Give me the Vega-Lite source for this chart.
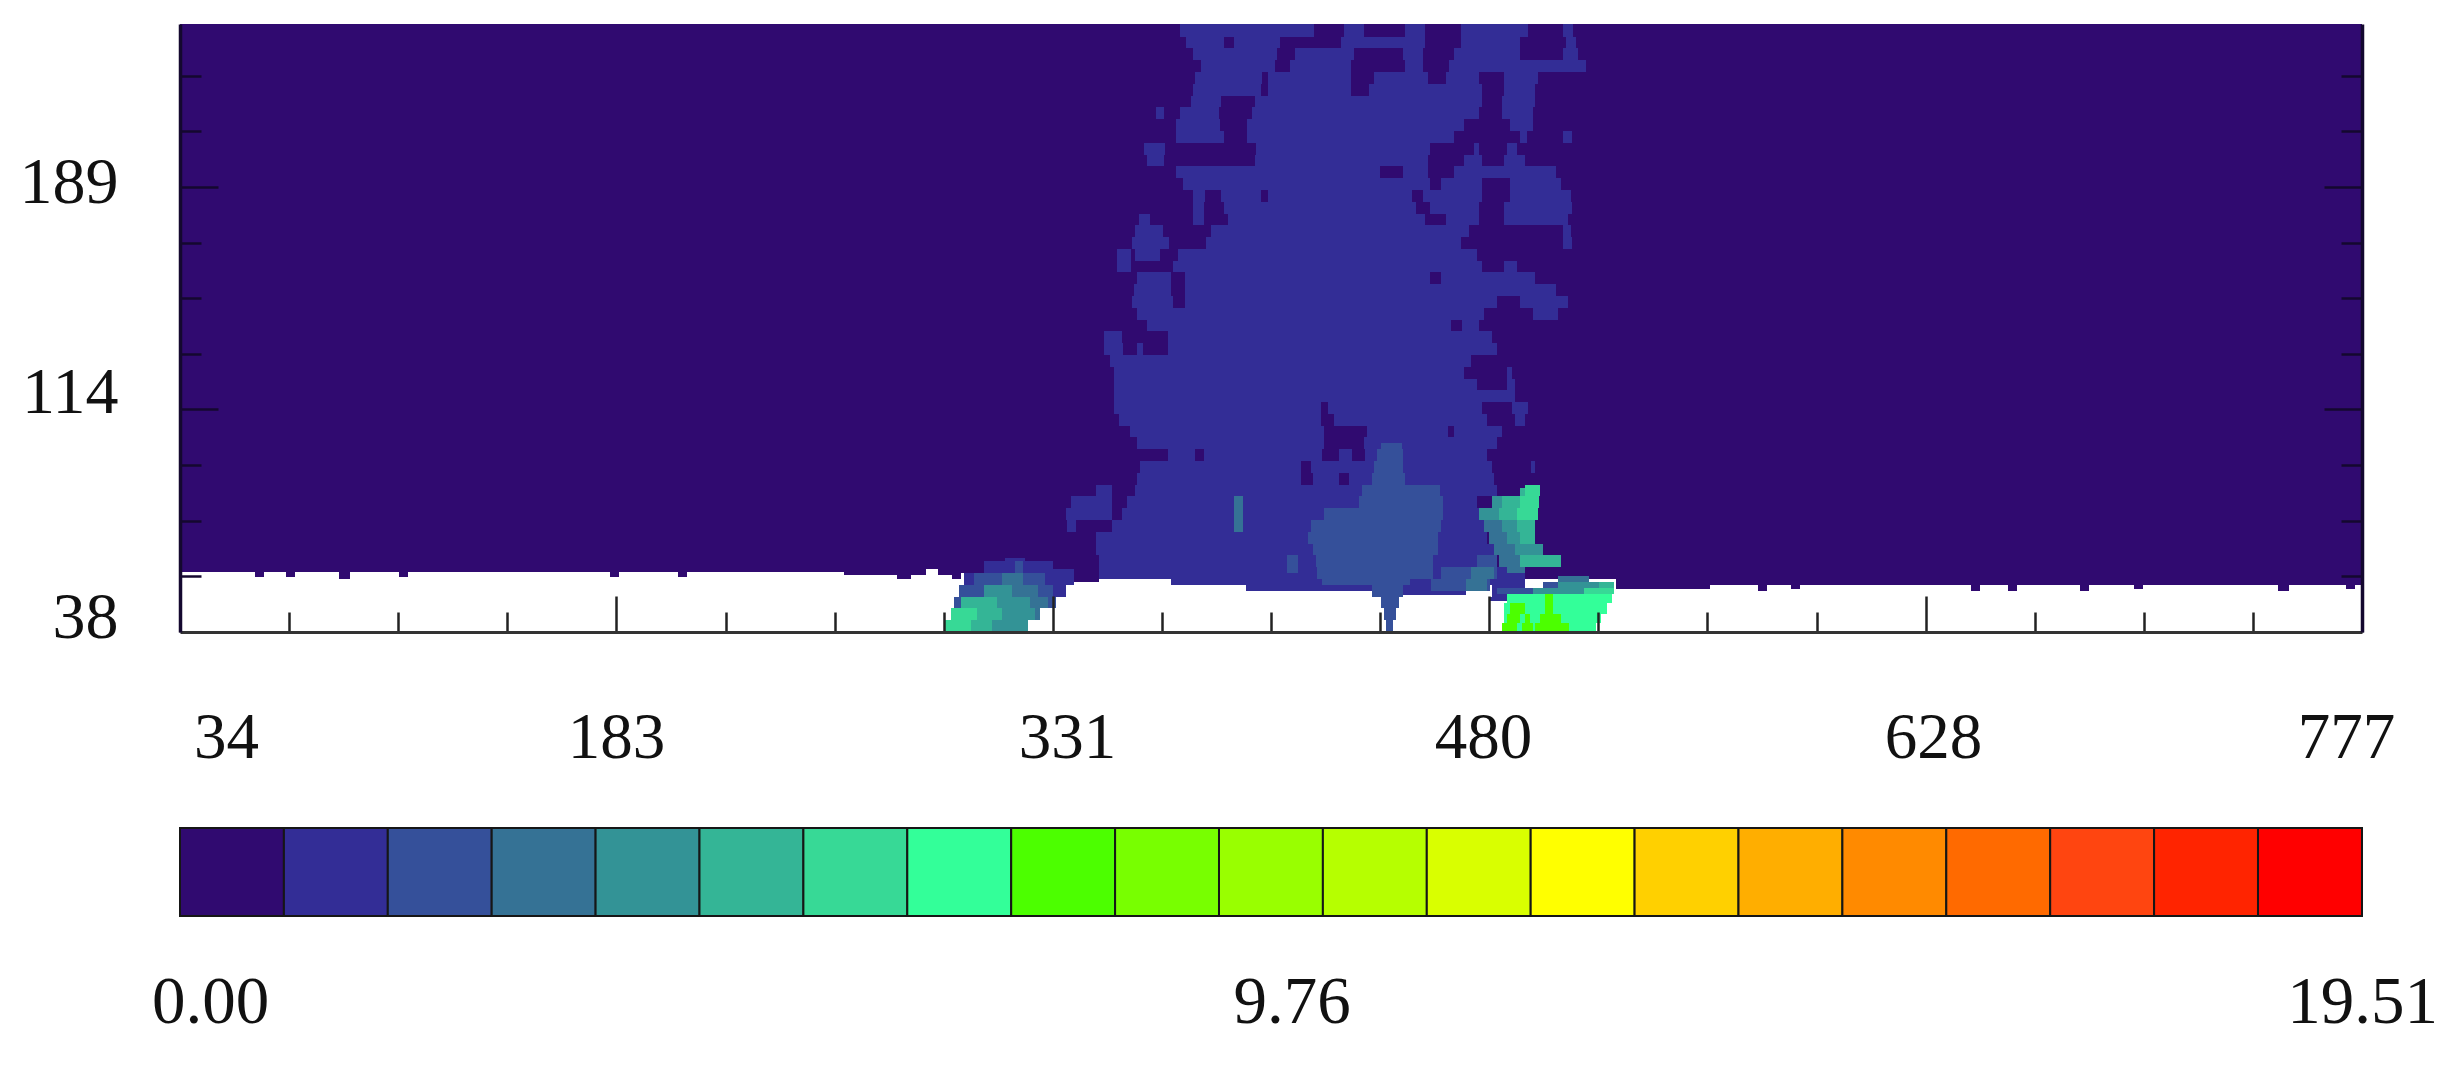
{"$schema":"https://vega.github.io/schema/vega-lite/v6.json","background":"white","padding":{"left":19,"top":24,"right":0,"bottom":0},"spacing":41,"config":{"view":{"stroke":null}},
"vconcat":[{"width":2182,"height":608,
"layer":[{"data":{"values":[
{"x":34,"x2":260,"y":58.5,"y2":244.3,"v":0.46},{"x":260,"x2":278,"y":57.5,"y2":244.3,"v":0.46},{"x":278,"x2":283,"y":56,"y2":244.3,"v":0.46},{"x":283,"x2":288,"y":57.5,"y2":244.3,"v":0.46},{"x":288,"x2":292,"y":59.5,"y2":244.3,"v":0.46},{"x":292,"x2":297,"y":57.5,"y2":244.3,"v":0.46},{"x":297,"x2":300,"y":56,"y2":244.3,"v":0.46},{"x":300,"x2":338,"y":58,"y2":244.3,"v":0.46},{"x":338,"x2":347,"y":55,"y2":244.3,"v":0.46},{"x":347,"x2":523,"y":56,"y2":244.3,"v":0.46},{"x":523,"x2":555,"y":52.5,"y2":244.3,"v":0.46},{"x":555,"x2":777,"y":54,"y2":244.3,"v":0.46},
{"x":59.5,"x2":62.5,"y":56.5,"y2":58.5,"v":0.46},{"x":70,"x2":73,"y":56.5,"y2":58.5,"v":0.46},{"x":88,"x2":92,"y":56,"y2":58.5,"v":0.46},{"x":108.5,"x2":111.5,"y":56.5,"y2":58.5,"v":0.46},{"x":180.5,"x2":183.5,"y":56.5,"y2":58.5,"v":0.46},{"x":203.5,"x2":206.5,"y":56.5,"y2":58.5,"v":0.46},
{"x":571.5,"x2":574.5,"y":52,"y2":54,"v":0.46},{"x":582.5,"x2":585.5,"y":52.5,"y2":54,"v":0.46},{"x":644,"x2":647,"y":52,"y2":54,"v":0.46},{"x":656.5,"x2":659.5,"y":52,"y2":54,"v":0.46},{"x":681,"x2":684,"y":52,"y2":54,"v":0.46},{"x":699.5,"x2":702.5,"y":52.5,"y2":54,"v":0.46},{"x":748.5,"x2":752,"y":52,"y2":54,"v":0.46},{"x":771.5,"x2":774.5,"y":52.5,"y2":54,"v":0.46},
{"x":374.4,"x2":420,"y":240,"y2":244.3,"v":1.39},{"x":430.3,"x2":437,"y":240,"y2":244.3,"v":1.39},{"x":451.2,"x2":458,"y":240,"y2":244.3,"v":1.39},{"x":470.3,"x2":493,"y":240,"y2":244.3,"v":1.39},{"x":505,"x2":508.5,"y":240,"y2":244.3,"v":1.39},
{"x":376.5,"x2":389.5,"y":236,"y2":240,"v":1.39},{"x":393,"x2":408.6,"y":236,"y2":240,"v":1.39},{"x":429.4,"x2":458.1,"y":236,"y2":240,"v":1.39},{"x":470.3,"x2":490.2,"y":236,"y2":240,"v":1.39},{"x":505.9,"x2":509.4,"y":236,"y2":240,"v":1.39},
{"x":379.1,"x2":407.4,"y":232,"y2":236,"v":1.39},{"x":413.8,"x2":433.8,"y":232,"y2":236,"v":1.39},{"x":450.3,"x2":457.2,"y":232,"y2":236,"v":1.39},{"x":467.7,"x2":490.2,"y":232,"y2":236,"v":1.39},{"x":505,"x2":510.2,"y":232,"y2":236,"v":1.39},
{"x":381.7,"x2":406.9,"y":228,"y2":232,"v":1.39},{"x":412.1,"x2":432.9,"y":228,"y2":232,"v":1.39},{"x":451.2,"x2":457.2,"y":228,"y2":232,"v":1.39},{"x":466,"x2":512.8,"y":228,"y2":232,"v":1.39},
{"x":379.6,"x2":402.5,"y":224,"y2":228,"v":1.39},{"x":404.6,"x2":432.9,"y":224,"y2":228,"v":1.39},{"x":440.7,"x2":459,"y":224,"y2":228,"v":1.39},{"x":465,"x2":476.4,"y":224,"y2":228,"v":1.39},{"x":485,"x2":496.3,"y":224,"y2":228,"v":1.39},
{"x":379.1,"x2":402.2,"y":220,"y2":224,"v":1.39},{"x":404.6,"x2":432.9,"y":220,"y2":224,"v":1.39},{"x":439,"x2":477.2,"y":220,"y2":224,"v":1.39},{"x":485,"x2":495.5,"y":220,"y2":224,"v":1.39},
{"x":378.2,"x2":388.6,"y":216,"y2":220,"v":1.39},{"x":399.9,"x2":477.2,"y":216,"y2":220,"v":1.39},{"x":484.2,"x2":495.5,"y":216,"y2":220,"v":1.39},
{"x":366.4,"x2":369.2,"y":212,"y2":216,"v":1.39},{"x":374.4,"x2":387.8,"y":212,"y2":216,"v":1.39},{"x":399,"x2":476.4,"y":212,"y2":216,"v":1.39},{"x":484.2,"x2":494.8,"y":212,"y2":216,"v":1.39},
{"x":373,"x2":388.3,"y":208,"y2":212,"v":1.39},{"x":397.3,"x2":471.1,"y":208,"y2":212,"v":1.39},{"x":486.8,"x2":494.6,"y":208,"y2":212,"v":1.39},
{"x":373,"x2":389.5,"y":204,"y2":208,"v":1.39},{"x":397.3,"x2":467.7,"y":204,"y2":208,"v":1.39},{"x":490.2,"x2":492.8,"y":204,"y2":208,"v":1.39},{"x":505,"x2":508,"y":204,"y2":208,"v":1.39},
{"x":362.2,"x2":369.5,"y":200,"y2":204,"v":1.39},{"x":400.4,"x2":459.8,"y":200,"y2":204,"v":1.39},{"x":474.6,"x2":476.4,"y":200,"y2":204,"v":1.39},{"x":485.9,"x2":489.4,"y":200,"y2":204,"v":1.39},
{"x":363.4,"x2":369.2,"y":196,"y2":200,"v":1.39},{"x":399.9,"x2":459,"y":196,"y2":200,"v":1.39},{"x":471.1,"x2":477.2,"y":196,"y2":200,"v":1.39},{"x":485,"x2":492,"y":196,"y2":200,"v":1.39},
{"x":373,"x2":442.5,"y":192,"y2":196,"v":1.39},{"x":450.3,"x2":459,"y":192,"y2":196,"v":1.39},{"x":467.7,"x2":502.4,"y":192,"y2":196,"v":1.39},
{"x":375.6,"x2":459.8,"y":188,"y2":192,"v":1.39},{"x":463.3,"x2":477.2,"y":188,"y2":192,"v":1.39},{"x":486.8,"x2":504.1,"y":188,"y2":192,"v":1.39},
{"x":379.1,"x2":383,"y":184,"y2":188,"v":1.39},{"x":388.6,"x2":402.2,"y":184,"y2":188,"v":1.39},{"x":404.6,"x2":453.4,"y":184,"y2":188,"v":1.39},{"x":457.2,"x2":477.2,"y":184,"y2":188,"v":1.39},{"x":486.8,"x2":507.6,"y":184,"y2":188,"v":1.39},
{"x":379.1,"x2":382.8,"y":180,"y2":184,"v":1.39},{"x":389.5,"x2":455,"y":180,"y2":184,"v":1.39},{"x":459.8,"x2":476.4,"y":180,"y2":184,"v":1.39},{"x":485,"x2":508.1,"y":180,"y2":184,"v":1.39},
{"x":360.5,"x2":364.3,"y":176,"y2":180,"v":1.39},{"x":379.1,"x2":382.8,"y":176,"y2":180,"v":1.39},{"x":390.7,"x2":458.1,"y":176,"y2":180,"v":1.39},{"x":465,"x2":476.4,"y":176,"y2":180,"v":1.39},{"x":485,"x2":506.7,"y":176,"y2":180,"v":1.39},
{"x":359.1,"x2":368.7,"y":172,"y2":176,"v":1.39},{"x":385.2,"x2":472.9,"y":172,"y2":176,"v":1.39},{"x":505,"x2":507.6,"y":172,"y2":176,"v":1.39},
{"x":358.2,"x2":370.9,"y":168,"y2":172,"v":1.39},{"x":383.4,"x2":470.3,"y":168,"y2":172,"v":1.39},{"x":505,"x2":508.1,"y":168,"y2":172,"v":1.39},
{"x":353,"x2":357.7,"y":164,"y2":168,"v":1.39},{"x":359.1,"x2":367.8,"y":164,"y2":168,"v":1.39},{"x":373.9,"x2":475.5,"y":164,"y2":168,"v":1.39},
{"x":353,"x2":357.7,"y":160,"y2":164,"v":1.39},{"x":372.1,"x2":477.2,"y":160,"y2":164,"v":1.39},{"x":485,"x2":489.4,"y":160,"y2":164,"v":1.39},
{"x":360,"x2":371.3,"y":156,"y2":160,"v":1.39},{"x":376.1,"x2":459.8,"y":156,"y2":160,"v":1.39},{"x":463.3,"x2":495.5,"y":156,"y2":160,"v":1.39},
{"x":358.8,"x2":371.3,"y":152,"y2":156,"v":1.39},{"x":376.1,"x2":502.4,"y":152,"y2":156,"v":1.39},
{"x":358.2,"x2":372.1,"y":148,"y2":152,"v":1.39},{"x":376.1,"x2":482.4,"y":148,"y2":152,"v":1.39},{"x":490.2,"x2":506.7,"y":148,"y2":152,"v":1.39},
{"x":360,"x2":478.1,"y":144,"y2":148,"v":1.39},{"x":494.6,"x2":503.3,"y":144,"y2":148,"v":1.39},
{"x":363.4,"x2":466.8,"y":140,"y2":144,"v":1.39},{"x":470.6,"x2":476.4,"y":140,"y2":144,"v":1.39},
{"x":348.7,"x2":354.8,"y":136,"y2":140,"v":1.39},{"x":370.4,"x2":480.7,"y":136,"y2":140,"v":1.39},
{"x":348.7,"x2":355,"y":132,"y2":136,"v":1.39},{"x":360,"x2":362,"y":132,"y2":136,"v":1.39},{"x":370.4,"x2":482.4,"y":132,"y2":136,"v":1.39},
{"x":350.8,"x2":473.7,"y":128,"y2":132,"v":1.39},
{"x":352.2,"x2":471.1,"y":124,"y2":128,"v":1.39},{"x":485.9,"x2":487.6,"y":124,"y2":128,"v":1.39},
{"x":352.2,"x2":475.5,"y":120,"y2":124,"v":1.39},{"x":485.9,"x2":488.5,"y":120,"y2":124,"v":1.39},
{"x":352.2,"x2":488.5,"y":116,"y2":120,"v":1.39},
{"x":352.2,"x2":422.5,"y":112,"y2":116,"v":1.39},{"x":425,"x2":477.2,"y":112,"y2":116,"v":1.39},{"x":487.6,"x2":493,"y":112,"y2":116,"v":1.39},
{"x":353.9,"x2":422.5,"y":108,"y2":112,"v":1.39},{"x":426.8,"x2":479,"y":108,"y2":112,"v":1.39},{"x":488.5,"x2":492,"y":108,"y2":112,"v":1.39},
{"x":357.4,"x2":423.4,"y":104,"y2":108,"v":1.39},{"x":438.1,"x2":465.9,"y":104,"y2":108,"v":1.39},{"x":467.7,"x2":484.2,"y":104,"y2":108,"v":1.39},
{"x":360,"x2":423.4,"y":100,"y2":104,"v":1.39},{"x":437.3,"x2":482.4,"y":100,"y2":104,"v":1.39},
{"x":370.4,"x2":379.6,"y":96,"y2":100,"v":1.39},{"x":382.6,"x2":423,"y":96,"y2":100,"v":1.39},{"x":428.6,"x2":433,"y":96,"y2":100,"v":1.39},{"x":437.6,"x2":479,"y":96,"y2":100,"v":1.39},
{"x":360.8,"x2":415.6,"y":92,"y2":96,"v":1.39},{"x":419,"x2":480.7,"y":92,"y2":96,"v":1.39},{"x":494,"x2":495.5,"y":92,"y2":96,"v":1.39},
{"x":360,"x2":415.6,"y":88,"y2":92,"v":1.39},{"x":419.9,"x2":428.6,"y":88,"y2":92,"v":1.39},{"x":432,"x2":481.6,"y":88,"y2":92,"v":1.39},
{"x":346,"x2":351.3,"y":84,"y2":88,"v":1.39},{"x":359.1,"x2":482.4,"y":84,"y2":88,"v":1.39},
{"x":337.4,"x2":351.3,"y":80,"y2":84,"v":1.39},{"x":356.5,"x2":475.5,"y":80,"y2":84,"v":1.39},
{"x":335.7,"x2":351.3,"y":76,"y2":80,"v":1.39},{"x":354.8,"x2":478.1,"y":76,"y2":80,"v":1.39},
{"x":336,"x2":339,"y":72,"y2":76,"v":1.39},{"x":351.3,"x2":479,"y":72,"y2":76,"v":1.39},
{"x":346,"x2":479,"y":68,"y2":72,"v":1.39},{"x":346,"x2":482.4,"y":64,"y2":68,"v":1.39},{"x":347,"x2":482.4,"y":60,"y2":64,"v":1.39},{"x":347,"x2":482.4,"y":56,"y2":60,"v":1.39},{"x":371.3,"x2":480.7,"y":54,"y2":56,"v":1.39},{"x":397,"x2":480,"y":52,"y2":54,"v":1.39},{"x":450,"x2":472,"y":50.5,"y2":52,"v":1.39},
{"x":480.7,"x2":492,"y":50,"y2":60,"v":1.39},{"x":479.8,"x2":485.9,"y":48.5,"y2":50,"v":1.39},
{"x":443,"x2":450,"y":100,"y2":102,"v":2.32},{"x":441.6,"x2":450.3,"y":96,"y2":100,"v":2.32},{"x":440.7,"x2":450.3,"y":92,"y2":96,"v":2.32},{"x":439.9,"x2":451.2,"y":88,"y2":92,"v":2.32},{"x":436.4,"x2":463,"y":84,"y2":88,"v":2.32},{"x":435.5,"x2":464.2,"y":80,"y2":84,"v":2.32},{"x":423.4,"x2":464.2,"y":76,"y2":80,"v":2.32},{"x":419,"x2":463.3,"y":72,"y2":76,"v":2.32},{"x":418.2,"x2":462.5,"y":68,"y2":72,"v":2.32},{"x":419.9,"x2":462.5,"y":64,"y2":68,"v":2.32},{"x":420.8,"x2":460.7,"y":60,"y2":64,"v":2.32},{"x":411,"x2":414.6,"y":58,"y2":64,"v":2.32},{"x":421,"x2":460.7,"y":56,"y2":60,"v":2.32},{"x":423,"x2":453,"y":54,"y2":56,"v":2.32},{"x":439.9,"x2":450.3,"y":50,"y2":54,"v":2.32},{"x":443,"x2":449.1,"y":46,"y2":50,"v":2.32},{"x":443.9,"x2":448,"y":42,"y2":46,"v":2.32},{"x":444.6,"x2":447,"y":38,"y2":42,"v":2.32},
{"x":393,"x2":396,"y":72,"y2":84,"v":3.25},
{"x":475.5,"x2":482.4,"y":60,"y2":64,"v":2.32},{"x":463.3,"x2":482.4,"y":56,"y2":60,"v":2.32},{"x":460,"x2":480,"y":52,"y2":56,"v":2.32},{"x":473.7,"x2":481.6,"y":56,"y2":60,"v":3.25},{"x":472,"x2":479,"y":52,"y2":56,"v":3.25},
{"x":490.2,"x2":497.2,"y":84,"y2":87,"v":5.11},{"x":492,"x2":497,"y":84,"y2":88,"v":6.04},
{"x":480.7,"x2":484.2,"y":80,"y2":84,"v":4.18},{"x":484.2,"x2":490.2,"y":80,"y2":84,"v":5.11},{"x":490.2,"x2":496.6,"y":80,"y2":84,"v":6.04},
{"x":476.4,"x2":483.3,"y":76,"y2":80,"v":4.18},{"x":483.3,"x2":489.4,"y":76,"y2":80,"v":5.11},{"x":489.4,"x2":496.3,"y":76,"y2":80,"v":6.04},
{"x":478.1,"x2":484.2,"y":72,"y2":76,"v":3.25},{"x":484.2,"x2":489.4,"y":72,"y2":76,"v":4.18},{"x":489.4,"x2":495.5,"y":72,"y2":76,"v":5.11},
{"x":479.8,"x2":485.9,"y":68,"y2":72,"v":3.25},{"x":485.9,"x2":490.2,"y":68,"y2":72,"v":4.18},{"x":490.2,"x2":495.5,"y":68,"y2":72,"v":5.11},
{"x":481.6,"x2":488.5,"y":64,"y2":68,"v":3.25},{"x":488.5,"x2":498,"y":64,"y2":68,"v":4.18},
{"x":483.3,"x2":490.2,"y":60,"y2":64,"v":3.25},{"x":490.2,"x2":504.1,"y":60,"y2":64,"v":5.11},{"x":485.9,"x2":492,"y":58,"y2":60,"v":3.25},
{"x":307.9,"x2":331.3,"y":58,"y2":62,"v":1.39},{"x":331.3,"x2":338.3,"y":58,"y2":59.5,"v":1.39},{"x":314.8,"x2":321.8,"y":62,"y2":63,"v":1.39},{"x":318.3,"x2":320.9,"y":58,"y2":62,"v":2.32},
{"x":300.9,"x2":304.4,"y":54,"y2":58,"v":1.39},{"x":304.4,"x2":313.9,"y":54,"y2":58,"v":2.32},{"x":313.9,"x2":320.9,"y":54,"y2":58,"v":3.25},{"x":320.9,"x2":328.7,"y":54,"y2":58,"v":2.32},{"x":328.7,"x2":338.3,"y":54,"y2":58,"v":1.39},
{"x":299.2,"x2":307.9,"y":50,"y2":54,"v":2.32},{"x":307.9,"x2":317.4,"y":50,"y2":54,"v":4.18},{"x":317.4,"x2":326.1,"y":50,"y2":54,"v":3.25},{"x":326.1,"x2":331.3,"y":50,"y2":54,"v":2.32},{"x":331.3,"x2":335.7,"y":50,"y2":54,"v":1.39},
{"x":297.4,"x2":300,"y":46,"y2":50,"v":2.32},{"x":300,"x2":312.2,"y":46,"y2":50,"v":5.11},{"x":312.2,"x2":323.5,"y":46,"y2":50,"v":4.18},{"x":323.5,"x2":329.6,"y":46,"y2":50,"v":3.25},{"x":329.6,"x2":332.2,"y":46,"y2":50,"v":2.32},
{"x":296.6,"x2":305.3,"y":42,"y2":46,"v":6.04},{"x":305.3,"x2":313.9,"y":42,"y2":46,"v":5.11},{"x":313.9,"x2":325.2,"y":42,"y2":46,"v":4.18},{"x":325.2,"x2":327,"y":42,"y2":46,"v":3.25},
{"x":294,"x2":303.5,"y":38,"y2":42,"v":6.04},{"x":303.5,"x2":310.5,"y":38,"y2":42,"v":5.11},{"x":310.5,"x2":322.6,"y":38,"y2":42,"v":4.18},
{"x":503.3,"x2":513.7,"y":55,"y2":57,"v":3.25},{"x":498,"x2":503.3,"y":53,"y2":55,"v":2.32},{"x":503.3,"x2":517.2,"y":53,"y2":55,"v":4.18},{"x":517.2,"x2":522.4,"y":53,"y2":55,"v":5.11},
{"x":482.4,"x2":494.6,"y":51,"y2":53,"v":2.32},{"x":494.6,"x2":512,"y":51,"y2":53,"v":4.18},{"x":512,"x2":522.4,"y":51,"y2":53,"v":6.04},
{"x":485.9,"x2":521.5,"y":48,"y2":51,"v":6.97},{"x":485,"x2":519.8,"y":44,"y2":48,"v":6.97},{"x":485,"x2":518,"y":41,"y2":44,"v":6.97},{"x":484.2,"x2":516.3,"y":38,"y2":41,"v":6.97},
{"x":486.8,"x2":492,"y":44,"y2":48,"v":7.9},{"x":498.9,"x2":501.5,"y":44,"y2":51,"v":7.9},{"x":485.9,"x2":490.2,"y":41,"y2":44,"v":7.9},{"x":492,"x2":493.7,"y":41,"y2":44,"v":7.9},{"x":497.2,"x2":504.1,"y":41,"y2":44,"v":7.9},{"x":484.2,"x2":489.4,"y":38,"y2":41,"v":7.9},{"x":491,"x2":494.6,"y":38,"y2":41,"v":7.9},{"x":495.5,"x2":507,"y":38,"y2":41,"v":7.9}
]},"mark":{"type":"rect"},"encoding":{
"x":{"field":"x","type":"quantitative","scale":{"domain":[34,777],"nice":false,"zero":false,"round":true},"axis":{"title":null,"grid":false,"zindex":1,"values":[34,71.15,108.3,145.45,182.6,219.75,256.9,294.05,331.2,368.35,405.5,442.65,479.8,516.95,554.1,591.25,628.4,665.55,702.7,739.85,777],"labelExpr":"indexof([34,183,331,480,628,777],round(datum.value))>=0?format(round(datum.value),'d'):''","labelFont":"Liberation Serif","labelFontSize":65,"labelColor":"#111111","labelPadding":141,"labelBaseline":"middle","labelFlush":false,"labelOverlap":false,"labelBound":false,"domainColor":"#333333","domainWidth":3,"tickColor":"#222222","tickWidth":2.5,"tickSize":{"condition":{"test":"indexof([34,183,331,480,628,777],round(datum.value))>=0","value":-36},"value":-20},"labelOffset":{"condition":[{"test":"datum.value==34","value":46},{"test":"round(datum.value)==331","value":14},{"test":"round(datum.value)==480","value":-6},{"test":"round(datum.value)==628","value":7},{"test":"round(datum.value)==777","value":-16}],"value":0}}},
"x2":{"field":"x2"},
"y":{"field":"y","type":"quantitative","scale":{"domain":[38,244.3],"nice":false,"zero":false,"round":true},"axis":{"title":null,"grid":false,"zindex":1,"values":[38,56.875,75.75,94.625,113.5,132.375,151.25,170.125,189,207.875,226.75],"labelExpr":"indexof([38,114,189],round(datum.value))>=0?format(round(datum.value),'d'):''","labelFont":"Liberation Serif","labelFontSize":66,"labelColor":"#111111","labelPadding":100,"labelOverlap":false,"labelBound":false,"labelFlush":false,"domainColor":"#14082f","domainWidth":3.5,"tickColor":"#14082f","tickWidth":2.5,"tickOpacity":{"condition":{"test":"datum.value==38","value":0},"value":1},"tickSize":{"condition":{"test":"indexof([38,114,189],round(datum.value))>=0","value":-38},"value":-21},"labelOffset":{"condition":[{"test":"datum.value==189","value":-5},{"test":"datum.value==113.5","value":-17},{"test":"datum.value==38","value":-15}],"value":0}}},
"y2":{"field":"y2"},
"color":{"field":"v","type":"quantitative","scale":{"type":"quantize","domain":[0,19.51],"range":["#300a70","#332d96","#35509a","#357295","#339396","#34b596","#37d996","#33ff99","#4cff00","#78ff00","#99ff00","#b6ff00","#d9ff00","#ffff00","#ffd000","#ffae00","#ff8a00","#ff6a00","#ff4510","#ff2400","#ff0000"]},"legend":null}}},
{"data":{"values":[{"x":34,"y":38}]},"mark":{"type":"point","opacity":0},"encoding":{"y":{"field":"y","type":"quantitative","scale":{"domain":[38,244.3],"nice":false,"zero":false},"axis":{"orient":"right","title":null,"grid":false,"zindex":1,"labels":false,"values":[38,56.875,75.75,94.625,113.5,132.375,151.25,170.125,189,207.875,226.75],"domainColor":"#14082f","domainWidth":3.5,"tickColor":"#14082f","tickWidth":2.5,"tickOpacity":{"condition":{"test":"datum.value==38","value":0},"value":1},"tickSize":{"condition":{"test":"indexof([38,114,189],round(datum.value))>=0","value":-38},"value":-21}}}}}],
"resolve":{"axis":{"y":"independent"}}},
{"width":2182,"height":88,"data":{"values":[
{"a":0,"b":0.929,"v":0.46},{"a":0.929,"b":1.858,"v":1.39},{"a":1.858,"b":2.787,"v":2.32},{"a":2.787,"b":3.716,"v":3.25},{"a":3.716,"b":4.645,"v":4.18},{"a":4.645,"b":5.574,"v":5.11},{"a":5.574,"b":6.503,"v":6.04},{"a":6.503,"b":7.432,"v":6.97},{"a":7.432,"b":8.361,"v":7.9},{"a":8.361,"b":9.29,"v":8.83},{"a":9.29,"b":10.219,"v":9.75},{"a":10.219,"b":11.148,"v":10.68},{"a":11.148,"b":12.077,"v":11.61},{"a":12.077,"b":13.006,"v":12.54},{"a":13.006,"b":13.935,"v":13.47},{"a":13.935,"b":14.864,"v":14.4},{"a":14.864,"b":15.793,"v":15.33},{"a":15.793,"b":16.722,"v":16.26},{"a":16.722,"b":17.651,"v":17.19},{"a":17.651,"b":18.58,"v":18.12},{"a":18.58,"b":19.51,"v":19.05}]},
"mark":{"type":"rect","stroke":"#161616","strokeWidth":2},"encoding":{"x":{"field":"a","type":"quantitative","scale":{"domain":[0,19.51],"nice":false,"zero":false},"axis":{"title":null,"grid":false,"domain":false,"ticks":false,"values":[0,9.76,19.51],"format":".2f","labelFont":"Liberation Serif","labelFontSize":67,"labelColor":"#111111","labelPadding":86,"labelBaseline":"middle","labelFlush":false,"labelBound":false,"labelOverlap":false,"labelOffset":{"condition":[{"test":"datum.value==0","value":30},{"test":"datum.value==9.76","value":20}],"value":0}}},"x2":{"field":"b"},"color":{"field":"v","type":"quantitative","scale":{"type":"quantize","domain":[0,19.51],"range":["#300a70","#332d96","#35509a","#357295","#339396","#34b596","#37d996","#33ff99","#4cff00","#78ff00","#99ff00","#b6ff00","#d9ff00","#ffff00","#ffd000","#ffae00","#ff8a00","#ff6a00","#ff4510","#ff2400","#ff0000"]},"legend":null}}}
]}
